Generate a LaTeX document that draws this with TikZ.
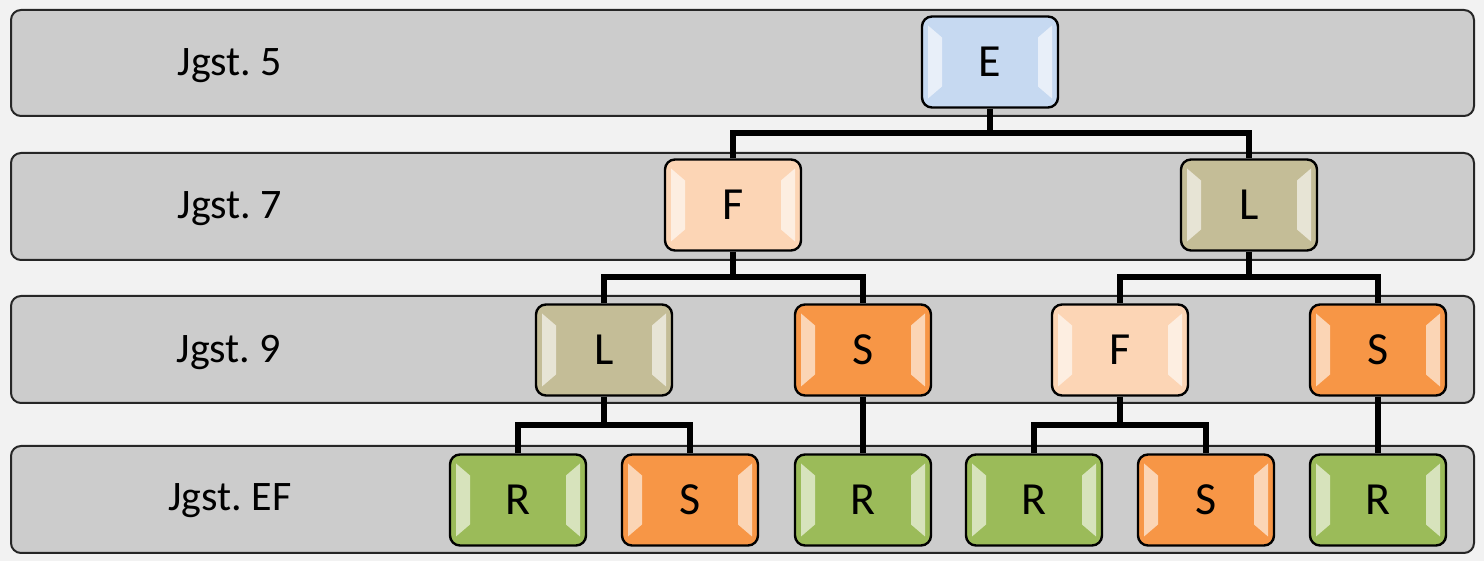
\documentclass[tikz,border=0pt]{standalone}
\usepackage{fontspec}
\setmainfont{Carlito}
\usetikzlibrary{calc}
\definecolor{cHinter}{HTML}{F2F2F2}
\definecolor{cBand}{HTML}{CCCCCC}
\definecolor{cE}{HTML}{C6D9F1}
\definecolor{cF}{HTML}{FCD5B5}
\definecolor{cL}{HTML}{C4BD97}
\definecolor{cS}{HTML}{F79646}
\definecolor{cR}{HTML}{9BBB59}
\tikzset{
    x=0.5pt, y=0.5pt, font=\fontsize{21}{25}\selectfont,
    band/.style={draw=black!85, line width=1pt, rounded corners=5pt, fill=cBand},
    jgst/.style={inner sep=2pt},
    fach/.style={draw=black, line width=1.2pt, rounded corners=5pt,
                 minimum width=68pt, minimum height=45.5pt, inner sep=0pt,
                 fill=#1, font=\fontsize{23}{27}\selectfont,
                 path picture={
                   \fill[white, opacity=.6, sharp corners]
                     ([shift={(3pt,-4.5pt)}]path picture bounding box.north west)
                     -- ([shift={(10pt,-10.5pt)}]path picture bounding box.north west)
                     -- ([shift={(10pt,10.5pt)}]path picture bounding box.south west)
                     -- ([shift={(3pt,4.5pt)}]path picture bounding box.south west)
                     -- cycle;
                   \fill[white, opacity=.6, sharp corners]
                     ([shift={(-3pt,-4.5pt)}]path picture bounding box.north east)
                     -- ([shift={(-10pt,-10.5pt)}]path picture bounding box.north east)
                     -- ([shift={(-10pt,10.5pt)}]path picture bounding box.south east)
                     -- ([shift={(-3pt,4.5pt)}]path picture bounding box.south east)
                     -- cycle;
                 }},
    conn/.style={line width=3pt, black},
}
\newcommand{\gabel}[3]{%
    \coordinate (m) at ($(#1.south)!.5!(#2.north)$);
    \draw[conn] (#1.south) -- (#1.south |- m);
    \draw[conn] (#2.north) -- (#2.north |- m) -- (#3.north |- m) -- (#3.north);
}

\begin{document}
\begin{tikzpicture}
    \fill[cHinter] (0,0) rectangle (1484,561);
    \useasboundingbox (0,0) rectangle (1484,561);

    % Baender
    \draw[band] (11,445) rectangle (1474,551);
    \draw[band] (11,301) rectangle (1474,408);
    \draw[band] (11,158) rectangle (1474,265);
    \draw[band] (11,8) rectangle (1474,115);

    \node[jgst] (lab5) at (230,495) {Jgst.\ 5};
    \node[jgst] (lab7) at (230,352) {Jgst.\ 7};
    \node[jgst] (lab9) at (229,209) {Jgst.\ 9};
    \node[jgst] (labEF) at (230,60) {Jgst.\ EF};

    % Faecher
    \node[fach=cE] (E) at (990,499) {E};

    \node[fach=cF] (F1) at (733,356) {F};
    \node[fach=cL] (L1) at (1249,356) {L};

    \node[fach=cL] (L2) at (604,211) {L};
    \node[fach=cS] (S2) at (863,211) {S};
    \node[fach=cF] (F2) at (1120,211) {F};
    \node[fach=cS] (S3) at (1378,211) {S};

    \node[fach=cR] (R1) at (518,61) {R};
    \node[fach=cS] (S4) at (690,61) {S};
    \node[fach=cR] (R2) at (863,61) {R};
    \node[fach=cR] (R3) at (1034,61) {R};
    \node[fach=cS] (S5) at (1206,61) {S};
    \node[fach=cR] (R4) at (1378,61) {R};

    % Verbindungen
    \gabel{E}{F1}{L1}
    \gabel{F1}{L2}{S2}
    \gabel{L1}{F2}{S3}
    \gabel{L2}{R1}{S4}
    \gabel{F2}{R3}{S5}
    \draw[conn] (S2.south) -- (R2.north);
    \draw[conn] (S3.south) -- (R4.north);
\end{tikzpicture}
\end{document}
